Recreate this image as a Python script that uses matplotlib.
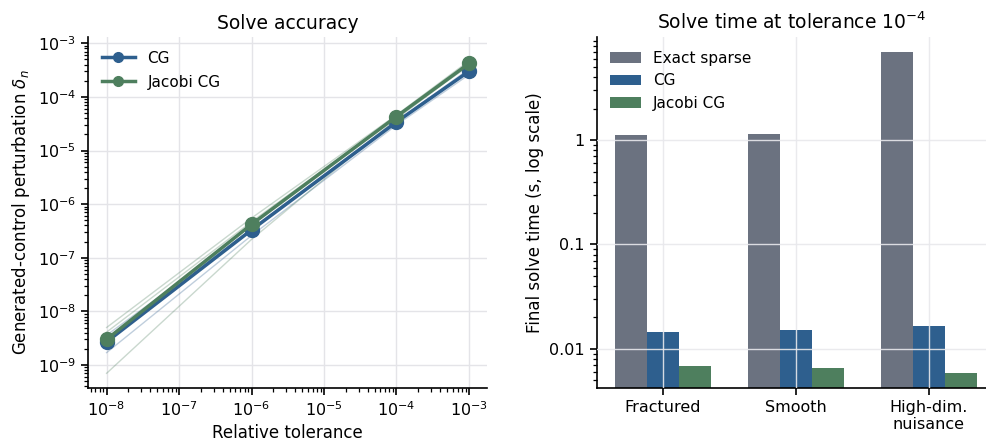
import matplotlib
matplotlib.use("Agg")
import matplotlib.pyplot as plt
from matplotlib.ticker import FuncFormatter, LogLocator
import numpy as np

# --- data ---
tolerances = [1e-8, 1e-6, 1e-4, 1e-3]

cg_main = [2.7e-9, 3.3e-7, 3.4e-5, 3.0e-4]
jacobi_main = [3.0e-9, 4.2e-7, 4.3e-5, 4.2e-4]

# per-problem runs (faint lines)
cg_runs = [
    [1.7e-9, 2.6e-7, 3.0e-5, 2.6e-4],
    [2.9e-9, 3.5e-7, 3.6e-5, 3.1e-4],
    [3.6e-9, 3.4e-7, 3.5e-5, 3.3e-4],
]
jacobi_runs = [
    [7.0e-10, 2.2e-7, 3.9e-5, 4.0e-4],
    [5.0e-9, 5.5e-7, 4.6e-5, 4.7e-4],
    [4.1e-9, 4.7e-7, 4.3e-5, 3.8e-4],
]

problems = ["Fractured", "Smooth", "High-dim.\nnuisance"]
time_exact = [1.12, 1.14, 7.0]
time_cg = [0.0146, 0.0152, 0.0166]
time_jacobi = [0.0069, 0.0066, 0.0059]

c_cg = "#2e5f8e"
c_jac = "#4e7f5e"
c_exact = "#6b7280"
c_grid = "#e4e4e8"

plt.rcParams['font.family'] = ['DejaVu Sans']
plt.rcParams['font.size'] = 11

fig = plt.figure(figsize=(9.86, 4.44), dpi=100)
ax1 = fig.add_axes([0.089, 0.126, 0.405, 0.791])
ax2 = fig.add_axes([0.605, 0.126, 0.395, 0.791])

# --- left: accuracy ---
for run in cg_runs:
    ax1.plot(tolerances, run, color=c_cg, lw=1, alpha=0.3, zorder=2)
for run in jacobi_runs:
    ax1.plot(tolerances, run, color=c_jac, lw=1, alpha=0.3, zorder=2)
ax1.plot(tolerances, cg_main, color=c_cg, lw=2.5, marker='o', ms=10, label='CG', zorder=3)
ax1.plot(tolerances, jacobi_main, color=c_jac, lw=2.5, marker='o', ms=10, label='Jacobi CG', zorder=4)

ax1.set_xscale('log')
ax1.set_yscale('log')
ax1.set_xlim(10**-8.26, 10**-2.75)
ax1.set_ylim(10**-9.43, 10**-2.88)
ax1.xaxis.set_major_locator(LogLocator(base=10, numticks=20))
ax1.yaxis.set_major_locator(LogLocator(base=10, numticks=20))
ax1.grid(True, color=c_grid, lw=1)
ax1.set_axisbelow(True)
ax1.set_title('Solve accuracy', fontsize=13.5)
ax1.set_xlabel('Relative tolerance', fontsize=12)
ax1.set_ylabel(r'Generated-control perturbation $\delta_n$', fontsize=12)
ax1.legend(loc='upper left', frameon=False, fontsize=11, handlelength=2.2,
           labelspacing=0.6, markerscale=0.7)

# --- right: solve time ---
x = np.arange(len(problems))
w = 0.24
ax2.bar(x - w, time_exact, w, color=c_exact, label='Exact sparse', zorder=1)
ax2.bar(x, time_cg, w, color=c_cg, label='CG', zorder=1)
ax2.bar(x + w, time_jacobi, w, color=c_jac, label='Jacobi CG', zorder=1)
ax2.set_yscale('log')
ax2.set_ylim(0.0042, 9.8)
ax2.set_xlim(-0.5, 2.43)
ax2.set_xticks(x)
ax2.set_xticklabels(problems)
ax2.yaxis.set_major_formatter(FuncFormatter(lambda v, p: '{:g}'.format(v)))
ax2.grid(True, color='#e8e8ec', lw=1, alpha=0.9, zorder=2)
ax2.set_axisbelow(False)
ax2.set_title(r'Solve time at tolerance $10^{-4}$', fontsize=13.5)
ax2.set_ylabel('Final solve time (s, log scale)', fontsize=12)
ax2.legend(loc='upper left', frameon=False, fontsize=11)

for ax in (ax1, ax2):
    ax.spines['top'].set_visible(False)
    ax.spines['right'].set_visible(False)
    ax.spines['left'].set_linewidth(1.2)
    ax.spines['bottom'].set_linewidth(1.2)
    ax.tick_params(which='major', length=5, width=1.2, labelsize=11.5)
    ax.tick_params(which='minor', length=3, width=0.9)

fig.savefig('out.png', dpi=100)
